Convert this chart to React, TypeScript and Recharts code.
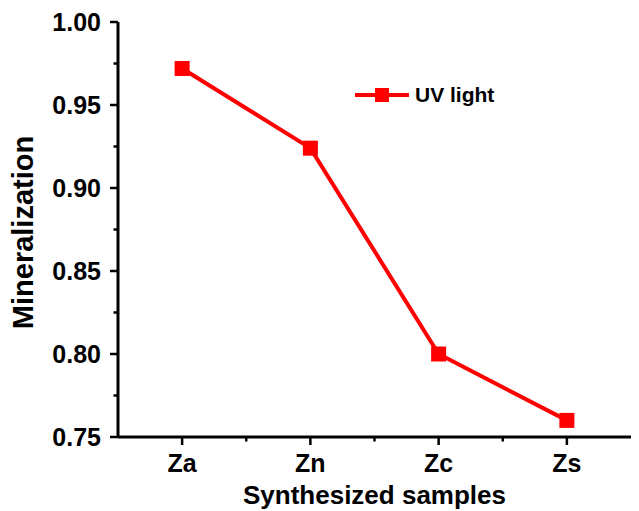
import { LineChart, Line, XAxis, YAxis, Legend } from 'recharts'

const categories = ['Za', 'Zn', 'Zc', 'Zs']
const mineralization = [0.972, 0.924, 0.8, 0.76]
const xTicks = [1, 1.5, 2, 2.5, 3, 3.5, 4]
const yTicks = [0.75, 0.775, 0.8, 0.825, 0.85, 0.875, 0.9, 0.925, 0.95, 0.975, 1.0]
const yLabels = ['0.75', '0.80', '0.85', '0.90', '0.95', '1.00']

const data = categories.map((name, i) => ({ x: i + 1, name, value: mineralization[i] }))

const FONT = '"Liberation Sans", Arial, sans-serif'
const RED = '#ff0000'

const isMajorX = (v: number) => Number.isInteger(v)
const yLabelFor = (v: number) => yLabels.find((l) => Math.abs(parseFloat(l) - v) < 1e-6)

function BottomTick({ x, y, payload }: any) {
  const major = isMajorX(payload.value)
  return (
    <g>
      <line x1={x} x2={x} y1={y} y2={y + (major ? 8 : 4.5)} stroke="#000" strokeWidth={2.5} />
      {major && (
        <text x={x} y={y + 35} textAnchor="middle" fontFamily={FONT} fontWeight="bold" fontSize={25} fill="#000">
          {categories[payload.value - 1]}
        </text>
      )}
    </g>
  )
}

function TopTick({ x, y, payload }: any) {
  const major = isMajorX(payload.value)
  return <line x1={x} x2={x} y1={y} y2={y - (major ? 8 : 4.5)} stroke="#000" strokeWidth={2.5} />
}

function LeftTick({ x, y, payload }: any) {
  const label = yLabelFor(payload.value)
  return (
    <g>
      <line x1={x} x2={x - (label ? 8 : 4.5)} y1={y} y2={y} stroke="#000" strokeWidth={2.5} />
      {label && (
        <text x={x - 17} y={y + 9} textAnchor="end" fontFamily={FONT} fontWeight="bold" fontSize={25} fill="#000">
          {label}
        </text>
      )}
    </g>
  )
}

function RightTick({ x, y, payload }: any) {
  const label = yLabelFor(payload.value)
  return <line x1={x} x2={x + (label ? 8 : 4.5)} y1={y} y2={y} stroke="#000" strokeWidth={2.5} />
}

function SquareDot(props: any) {
  const { cx, cy, index } = props
  return <rect key={`dot-${index}`} x={cx - 7.5} y={cy - 7.5} width={15} height={15} fill={RED} />
}

function LegendContent() {
  return (
    <svg width={150} height={30} style={{ display: 'block' }}>
      <line x1={0} x2={54} y1={15} y2={15} stroke={RED} strokeWidth={4} />
      <rect x={20} y={8} width={14} height={14} fill={RED} />
      <text x={60} y={22} fontFamily={FONT} fontWeight="bold" fontSize={21} fill="#000">
        UV light
      </text>
    </svg>
  )
}

const axisLine = { stroke: '#000', strokeWidth: 3 }

export default function App() {
  return (
    <div style={{ position: 'absolute', left: 0, top: 0, background: '#fff' }}>
      <LineChart width={639} height={511} data={data} margin={{ top: 22, right: 8, bottom: 0, left: 0 }}>
        <XAxis
          xAxisId="bottom"
          dataKey="x"
          type="number"
          domain={[0.5, 4.5]}
          ticks={xTicks}
          interval={0}
          height={74}
          tickSize={0}
          tickMargin={0}
          tickLine={false}
          axisLine={axisLine}
          tick={<BottomTick />}
          label={{
            content: ({ viewBox }: any) => (
              <text
                x={viewBox.x + viewBox.width / 2}
                y={viewBox.y + 67}
                textAnchor="middle"
                fontFamily={FONT}
                fontWeight="bold"
                fontSize={26}
                fill="#000"
              >
                Synthesized samples
              </text>
            ),
          }}
        />
        <XAxis
          xAxisId="top"
          orientation="top"
          dataKey="x"
          type="number"
          domain={[0.5, 4.5]}
          ticks={xTicks}
          interval={0}
          height={0}
          tickSize={0}
          tickMargin={0}
          tickLine={false}
          axisLine={axisLine}
          tick={<TopTick />}
        />
        <YAxis
          yAxisId="left"
          type="number"
          domain={[0.75, 1.0]}
          ticks={yTicks}
          interval={0}
          width={118}
          tickSize={0}
          tickMargin={0}
          tickLine={false}
          axisLine={axisLine}
          tick={<LeftTick />}
          label={{
            content: ({ viewBox }: any) => {
              const cy = viewBox.y + viewBox.height / 2 + 3
              return (
                <text
                  x={33}
                  y={cy}
                  transform={`rotate(-90, 33, ${cy})`}
                  textAnchor="middle"
                  fontFamily={FONT}
                  fontWeight="bold"
                  fontSize={29}
                  fill="#000"
                >
                  Mineralization
                </text>
              )
            },
          }}
        />
        <YAxis
          yAxisId="right"
          orientation="right"
          type="number"
          domain={[0.75, 1.0]}
          ticks={yTicks}
          interval={0}
          width={0}
          tickSize={0}
          tickMargin={0}
          tickLine={false}
          axisLine={axisLine}
          tick={<RightTick />}
        />
        <Legend
          layout="horizontal"
          verticalAlign="middle"
          align="center"
          content={<LegendContent />}
          wrapperStyle={{ left: 355, top: 80, width: 150, height: 30 }}
        />
        <Line
          xAxisId="bottom"
          yAxisId="left"
          dataKey="value"
          name="UV light"
          type="linear"
          stroke={RED}
          strokeWidth={4}
          dot={SquareDot}
          activeDot={false}
          isAnimationActive={false}
        />
      </LineChart>
    </div>
  )
}
